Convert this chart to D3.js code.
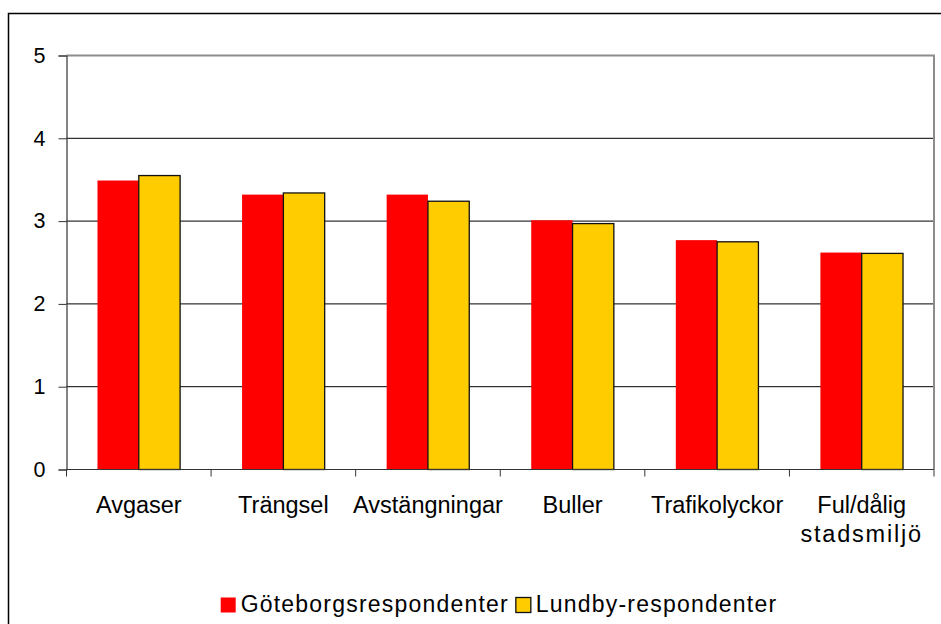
<!DOCTYPE html>
<html>
<head>
<meta charset="utf-8">
<script src="https://cdn.jsdelivr.net/npm/d3@7"></script>
<style>
  body { margin: 0; background: #fff; }
  svg { display: block; font-family: Arial, "Liberation Sans", sans-serif; }
</style>
</head>
<body>
<div id="chart"></div>
<script>
// data
var categories = ["Avgaser", "Trängsel", "Avstängningar", "Buller", "Trafikolyckor", "Ful/dålig|stadsmiljö"];
var goteborg = [3.49, 3.32, 3.32, 3.01, 2.77, 2.62];
var lundby = [3.55, 3.34, 3.24, 2.97, 2.75, 2.61];
var seriesNames = ["Göteborgsrespondenter", "Lundby-respondenter"];
var seriesColors = ["#ff0000", "#ffcc00"];
var yTicks = [0, 1, 2, 3, 4, 5];

var width = 941, height = 624;
// plot area edges ("top" is taken by window.top, so prefix them)
var plotL = 66.5, plotR = 934, plotT = 55.5, plotB = 469.5;

var svg = d3.select('#chart')
  .append('svg')
  .attr('width', width)
  .attr('height', height);

// outer chart border (right/bottom run off the page)
svg.append('rect')
  .attr('x', 8.5).attr('y', 13.5)
  .attr('width', 1000).attr('height', 1000)
  .attr('fill', 'none')
  .attr('stroke', '#000')
  .attr('stroke-width', 1.5);

var x = d3.scaleBand()
  .domain(categories)
  .range([plotL, plotR]);

var bw = x.bandwidth() / 3.5; // excel gap width 150%
var xs = d3.scaleBand()
  .domain([0, 1])
  .range([(x.bandwidth() - 2 * bw) / 2, (x.bandwidth() + 2 * bw) / 2]);

var y = d3.scaleLinear()
  .domain([0, 5])
  .range([plotB, plotT]);

// gridlines
svg.append('g')
  .selectAll('line')
  .data(yTicks.filter(function(d) { return d > 0 && d < 5; }))
  .enter()
  .append('line')
  .attr('x1', plotL).attr('x2', plotR)
  .attr('y1', function(d) { return y(d); })
  .attr('y2', function(d) { return y(d); })
  .attr('stroke', '#000')
  .attr('stroke-width', 1);

// plot area border top + right (gray)
svg.append('path')
  .attr('d', 'M' + plotL + ',' + y(5) + 'H' + plotR + 'V' + plotB)
  .attr('fill', 'none')
  .attr('stroke', '#8c8c8c')
  .attr('stroke-width', 2);

// bars
var rows = categories.map(function(c, i) { return { cat: c, vals: [goteborg[i], lundby[i]] }; });

var groups = svg.append('g')
  .selectAll('g')
  .data(rows)
  .enter()
  .append('g')
  .attr('transform', function(d) { return 'translate(' + x(d.cat) + ',0)'; });

groups.selectAll('rect')
  .data(function(d) { return d.vals; })
  .enter()
  .append('rect')
  .attr('x', function(d, i) { return xs(i); })
  .attr('y', function(d) { return y(d); })
  .attr('width', xs.bandwidth())
  .attr('height', function(d) { return y(0) - y(d); })
  .attr('fill', function(d, i) { return seriesColors[i]; })
  .attr('stroke', function(d, i) { return i === 1 ? '#111' : 'none'; })
  .attr('stroke-width', 1.3);

// y axis
var yAxis = d3.axisLeft(y)
  .tickValues(yTicks)
  .tickSize(8)
  .tickPadding(13)
  .tickFormat(d3.format('d'));

var gy = svg.append('g')
  .attr('transform', 'translate(' + plotL + ',0)')
  .call(yAxis);
gy.select('.domain').attr('stroke', '#333').attr('stroke-width', 1.2);
gy.selectAll('.tick line').attr('stroke', '#333');
gy.selectAll('.tick text')
  .attr('font-size', 21.5)
  .attr('font-family', 'Arial, "Liberation Sans", sans-serif')
  .attr('fill', '#000');

// x axis line + ticks at band edges
var xEdges = categories.map(function(c) { return x(c); }).concat([plotR]);
svg.append('line')
  .attr('x1', plotL).attr('x2', plotR)
  .attr('y1', plotB).attr('y2', plotB)
  .attr('stroke', '#333').attr('stroke-width', 1.2);
svg.append('g')
  .selectAll('line')
  .data(xEdges)
  .enter()
  .append('line')
  .attr('x1', function(d) { return d; }).attr('x2', function(d) { return d; })
  .attr('y1', plotB).attr('y2', plotB + 7)
  .attr('stroke', '#333');

// category labels
var labels = svg.append('g')
  .selectAll('text')
  .data(categories)
  .enter()
  .append('text')
  .attr('x', function(d) { return x(d) + x.bandwidth() / 2; })
  .attr('y', 513)
  .attr('text-anchor', 'middle')
  .attr('font-size', 23.5)
  .attr('fill', '#000');

labels.each(function(d) {
  var parts = d.split('|');
  var t = d3.select(this);
  parts.forEach(function(p, i) {
    t.append('tspan')
      .attr('x', x(d) + x.bandwidth() / 2)
      .attr('dy', i === 0 ? 0 : 29)
      .attr('letter-spacing', i === 1 ? 1.8 : 0)
      .text(p);
  });
});

// legend
var legend = svg.append('g');
var sq = 15, gapSq = 5, gapItem = 7;
var items = legend.selectAll('g')
  .data(seriesNames)
  .enter()
  .append('g');

items.append('rect')
  .attr('width', sq).attr('height', sq)
  .attr('y', 597.5)
  .attr('fill', function(d, i) { return seriesColors[i]; })
  .attr('stroke', function(d, i) { return i === 1 ? '#111' : 'none'; })
  .attr('stroke-width', 1.3);

items.append('text')
  .attr('x', sq + gapSq)
  .attr('y', 612)
  .attr('font-size', 23)
  .attr('letter-spacing', 1.2)
  .attr('fill', '#000')
  .text(function(d) { return d; });

var offs = [], total = 0;
items.each(function() {
  offs.push(total);
  var w = sq + gapSq + d3.select(this).select('text').node().getComputedTextLength();
  total += w + gapItem;
});
total -= gapItem;
var start = 499 - total / 2;
items.attr('transform', function(d, i) { return 'translate(' + (start + offs[i]) + ',0)'; });
</script>
</body>
</html>
